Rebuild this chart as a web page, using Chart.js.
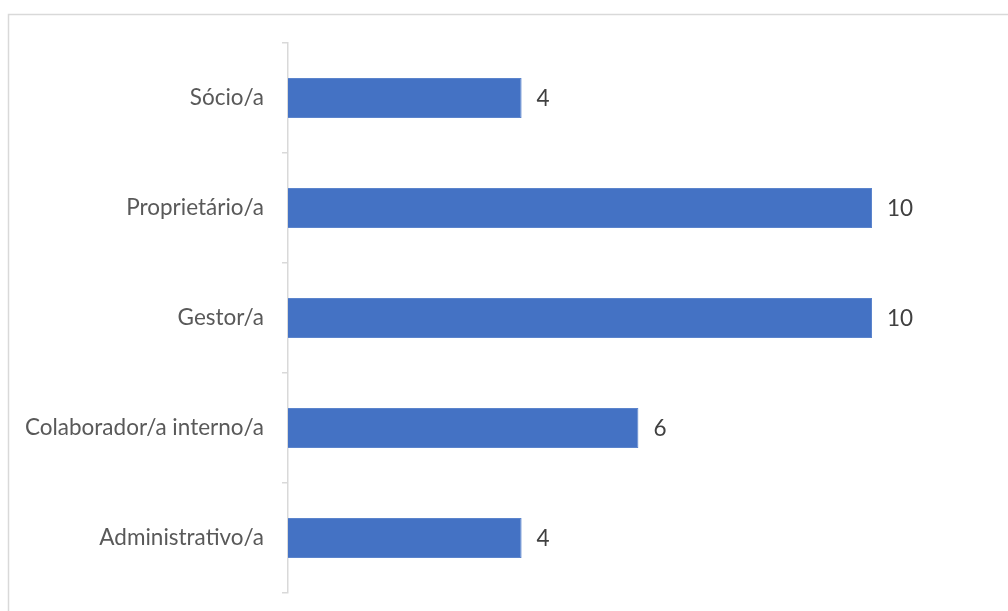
<!DOCTYPE html>
<html>
<head>
<meta charset="utf-8">
<script src="https://cdn.jsdelivr.net/npm/chart.js@4/dist/chart.umd.min.js"></script>
<style>
  html, body { margin: 0; padding: 0; background: #fff; }
  #wrap { width: 1008px; height: 611px; position: relative; }
</style>
</head>
<body>
<div id="wrap"><canvas id="roleChart"></canvas></div>
<script>
// categorias e valores
const categories = ['Sócio/a', 'Proprietário/a', 'Gestor/a', 'Colaborador/a interno/a', 'Administrativo/a'];
const counts = [4, 10, 10, 6, 4];

const FONT = "Lato, 'Open Sans', sans-serif";
const FONT_SIZE = 22.5;

// moldura cinza clara (só topo e esquerda visíveis)
const framePlugin = {
    id: 'frame',
    beforeDraw(chart) {
        const ctx = chart.ctx;
        ctx.save();
        ctx.strokeStyle = '#d9d9d9';
        ctx.lineWidth = 1.5;
        ctx.beginPath();
        ctx.moveTo(8.5, chart.height + 2);
        ctx.lineTo(8.5, 14.5);
        ctx.lineTo(chart.width + 2, 14.5);
        ctx.stroke();
        ctx.restore();
    }
};

// rótulos de valor à direita das barras
const valueLabels = {
    id: 'valueLabels',
    afterDatasetsDraw(chart) {
        const ctx = chart.ctx;
        const meta = chart.getDatasetMeta(0);
        ctx.save();
        ctx.font = FONT_SIZE + 'px ' + FONT;
        ctx.fillStyle = '#404040';
        ctx.textAlign = 'left';
        ctx.textBaseline = 'middle';
        meta.data.forEach((bar, i) => {
            ctx.fillText(String(counts[i]), bar.x + 15, bar.y + 1);
        });
        ctx.restore();
    }
};

new Chart(document.getElementById('roleChart'), {
    type: 'bar',
    data: {
        labels: categories,
        datasets: [{
            data: counts,
            backgroundColor: '#4472C4',
            borderColor: '#5b84cc',
            borderWidth: 1,
            categoryPercentage: 1,
            barPercentage: 0.364
        }]
    },
    options: {
        indexAxis: 'y',
        responsive: true,
        maintainAspectRatio: false,
        animation: false,
        layout: {
            padding: { top: 43, bottom: 18, left: 8, right: 136 }
        },
        plugins: {
            legend: { display: false },
            tooltip: { enabled: false }
        },
        scales: {
            x: {
                display: false,
                min: 0,
                max: 10
            },
            y: {
                afterFit(axis) {
                    axis.width = 280;
                    axis.paddingTop = 0;
                    axis.paddingBottom = 0;
                },
                grid: {
                    offset: true,
                    drawOnChartArea: false,
                    color: '#d9d9d9',
                    tickLength: 6,
                    lineWidth: 1.5
                },
                border: { color: '#d9d9d9', width: 1.5 },
                ticks: {
                    color: '#595959',
                    padding: 18,
                    font: { family: FONT, size: FONT_SIZE }
                }
            }
        }
    },
    plugins: [framePlugin, valueLabels]
});
</script>
</body>
</html>
